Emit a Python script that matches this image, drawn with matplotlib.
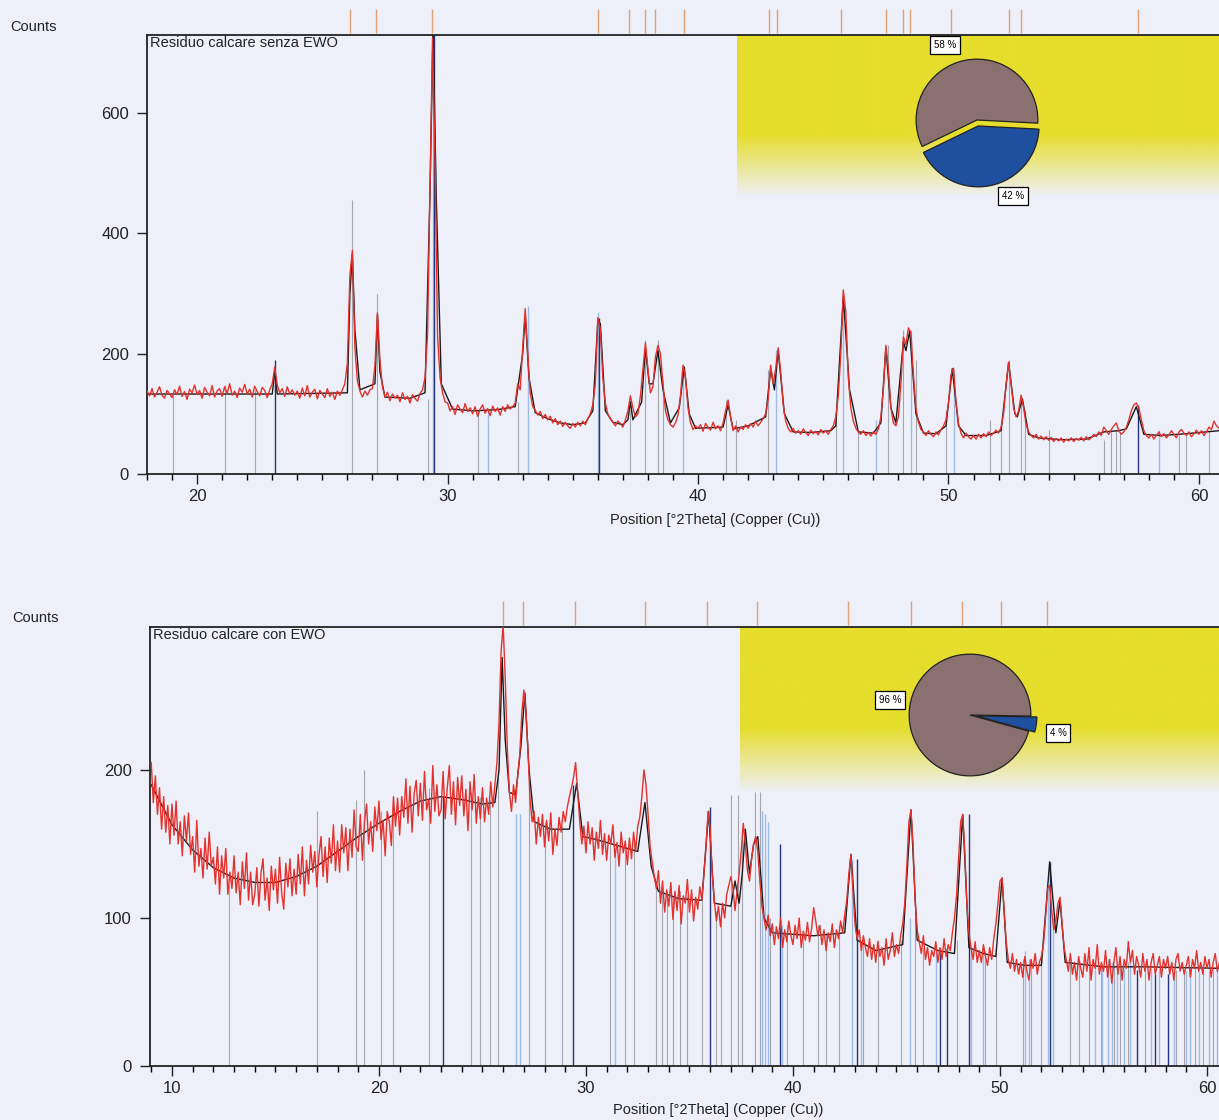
import numpy as np
import matplotlib
matplotlib.use("Agg")
import matplotlib.pyplot as plt
from matplotlib.ticker import MultipleLocator
from matplotlib.colors import to_rgb

plt.rcParams['font.family'] = ['Liberation Sans', 'DejaVu Sans']

# ---------------- data ----------------
# upper pattern: "Residuo calcare senza EWO", 0.1 deg steps from 18.0
top_start = 18.0
top_counts = [
    138, 130, 142, 128, 136, 145, 131, 126, 139, 133,
    127, 140, 132, 146, 129, 137, 124, 141, 135, 148,
    132, 139, 126, 144, 136, 130, 147, 128, 138, 142,
    129, 145, 134, 150, 131, 138, 127, 143, 136, 149,
    133, 141, 128, 146, 137, 130, 144, 139, 127, 140,
    150, 178, 148, 135, 142, 129, 145, 133, 140, 131,
    138, 126, 143, 130, 147, 128, 136, 141, 125, 139,
    133, 127, 142, 129, 136, 124, 138, 131, 140, 150,
    185, 330, 372, 210, 155, 138, 128, 138, 131, 140,
    142, 180, 268, 190, 145, 128, 136, 122, 133, 126,
    131, 120, 135, 124, 129, 118, 132, 126, 121, 134,
    140, 160, 230, 480, 725, 520, 230, 160, 135, 120,
    118, 105, 112, 99, 115, 108, 102, 117, 104, 110,
    100, 112, 96, 108, 115, 101, 109, 97, 113, 104,
    110, 98, 112, 104, 115, 108, 112, 118, 150, 140,
    210, 275, 200, 135, 112, 106, 98, 104, 92, 99,
    90, 96, 85, 92, 82, 88, 79, 86, 80, 76,
    84, 78, 86, 80, 88, 82, 92, 100, 115, 150,
    260, 240, 160, 118, 100, 92, 86, 80, 88, 84,
    78, 90, 105, 130, 110, 95, 100, 130, 175, 218,
    175, 135, 145, 195, 214, 200, 150, 105, 90, 82,
    78, 85, 98, 130, 181, 160, 110, 85, 74, 80,
    76, 82, 71, 84, 78, 73, 86, 75, 80, 72,
    85, 105, 123, 95, 72, 80, 70, 78, 74, 82,
    76, 84, 78, 88, 80, 86, 92, 100, 125, 181,
    150, 175, 210, 170, 115, 88, 76, 70, 76, 68,
    72, 66, 75, 69, 64, 73, 67, 71, 65, 74,
    68, 72, 66, 74, 80, 95, 130, 200, 306, 270,
    160, 110, 88, 76, 70, 66, 72, 64, 69, 63,
    70, 66, 75, 95, 140, 214, 175, 110, 85, 80,
    95, 150, 228, 215, 243, 235, 165, 110, 86, 74,
    70, 64, 72, 66, 62, 70, 65, 74, 80, 90,
    118, 165, 176, 120, 84, 68, 60, 68, 62, 58,
    64, 58, 66, 60, 67, 62, 70, 64, 68, 73,
    68, 78, 100, 150, 186, 150, 110, 95, 105, 131,
    110, 82, 70, 64, 60, 66, 58, 63, 57, 62,
    56, 61, 54, 59, 55, 60, 53, 58, 55, 60,
    54, 59, 56, 61, 55, 62, 57, 60, 66, 62,
    70, 64, 78, 72, 66, 74, 80, 85, 72, 66,
    70, 78, 90, 105, 115, 118, 110, 90, 72, 64,
    60, 66, 58, 64, 70, 62, 67, 60, 65, 72,
    66, 60, 70, 74, 68, 64, 70, 62, 67, 73,
    66, 72, 64, 70, 78, 74, 88, 80, 76,
]
top_fit_x = [18.0, 23.0, 23.1, 23.2, 26.0, 26.1, 26.2, 26.3, 26.5, 27.1, 27.2, 27.3,
             27.5, 28.5, 29.1, 29.3, 29.42, 29.55, 29.75, 30.2, 31.0, 32.0, 32.7,
             33.0, 33.1, 33.25, 33.5, 34.0, 34.5, 35.0, 35.5, 35.8, 36.0, 36.1,
             36.3, 36.6, 37.0, 37.2, 37.3, 37.4, 37.75, 37.9, 38.05, 38.2, 38.4,
             38.6, 38.9, 39.25, 39.45, 39.65, 39.9, 40.5, 41.0, 41.2, 41.4, 42.0,
             42.7, 42.9, 43.05, 43.2, 43.45, 43.8, 44.5, 45.3, 45.5, 45.8, 46.05,
             46.4, 47.0, 47.3, 47.5, 47.7, 47.9, 48.2, 48.3, 48.45, 48.7, 49.0,
             49.5, 49.9, 50.15, 50.4, 50.7, 51.5, 52.1, 52.4, 52.65, 52.75, 52.95,
             53.2, 53.6, 54.5, 55.5, 56.2, 56.8, 57.1, 57.5, 57.8, 58.5, 59.5,
             60.8]
top_fit_y = [133, 133, 170, 133, 135, 300, 365, 240, 140, 150, 265, 170,
             128, 126, 135, 470, 740, 460, 150, 108, 105, 107, 112,
             200, 265, 160, 102, 92, 85, 82, 85, 105, 255, 250,
             105, 86, 82, 90, 120, 90, 120, 210, 150, 150, 205,
             140, 85, 110, 178, 100, 76, 77, 78, 115, 75, 80,
             95, 175, 140, 205, 100, 70, 69, 72, 80, 295, 140,
             70, 68, 85, 210, 110, 85, 220, 205, 238, 100, 68,
             67, 80, 175, 80, 64, 64, 72, 185, 100, 95, 125,
             66, 60, 57, 58, 70, 72, 75, 112, 66, 64, 67,
             72]
top_grey_pos = [19.05, 21.1, 22.3, 26.2, 27.2, 29.2, 31.2, 32.8, 37.3, 37.9, 38.4,
                38.6, 41.1, 41.5, 42.8, 45.5, 46.4, 47.6, 48.2, 48.7, 49.9, 51.65,
                52.1, 52.4, 52.9, 53.05, 54.0, 56.2, 56.5, 56.7, 56.85, 59.2, 59.5, 60.4]
top_grey_h = [131, 148, 140, 455, 300, 125, 107, 120, 107, 222, 222,
              157, 123, 90, 173, 90, 73, 215, 240, 190, 107, 90,
              82, 190, 123, 107, 73, 57, 73, 73, 70, 65, 65, 73]
top_blue_pos = [29.4, 31.6, 33.2, 36.0, 39.4, 43.1, 45.8, 47.1, 48.5, 50.2, 58.4]
top_blue_h = [730, 107, 280, 270, 180, 206, 305, 90, 240, 173, 73]
top_dark_pos = [23.1, 29.45, 36.05, 57.55]
top_dark_h = [190, 730, 260, 115]
top_peak_marks = [26.1, 27.15, 29.38, 36.0, 37.25, 37.9, 38.3, 39.45, 42.85, 43.15,
                  45.7, 47.5, 48.2, 48.45, 50.1, 52.4, 52.9, 57.55]
top_share = [58, 42]

# lower pattern: "Residuo calcare con EWO", 0.1 deg steps from 9.0
bot_start = 9.0
bot_counts = [
    205, 178, 196, 170, 188, 160, 182, 158, 176, 150,
    177, 156, 179, 150, 165, 142, 169, 152, 171, 143,
    155, 131, 166, 135, 147, 127, 154, 133, 158, 135,
    141, 123, 148, 116, 142, 127, 147, 116, 131, 120,
    142, 117, 131, 109, 138, 120, 144, 112, 131, 109,
    116, 134, 108, 130, 140, 112, 127, 105, 135, 119,
    133, 110, 141, 117, 106, 137, 121, 140, 115, 133,
    116, 143, 123, 148, 115, 139, 123, 149, 131, 145,
    121, 142, 155, 128, 148, 124, 154, 137, 163, 132,
    152, 131, 163, 144, 161, 132, 160, 141, 173, 148,
    145, 170, 139, 165, 177, 150, 165, 145, 175, 159,
    179, 153, 166, 142, 172, 165, 149, 182, 162, 181,
    156, 182, 168, 194, 164, 189, 158, 184, 193, 169,
    191, 166, 199, 173, 180, 164, 203, 172, 190, 169,
    173, 199, 167, 188, 203, 170, 192, 163, 195, 176,
    196, 169, 187, 159, 192, 173, 197, 164, 182, 167,
    188, 165, 181, 170, 192, 175, 190, 205, 232, 280,
    298, 262, 215, 185, 172, 190, 178, 196, 210, 238,
    254, 240, 212, 180, 165, 172, 150, 168, 155, 170,
    148, 166, 152, 171, 143, 160, 149, 168, 158, 172,
    165, 175, 182, 188, 195, 205, 185, 165, 150, 162,
    144, 165, 150, 161, 139, 158, 147, 166, 143, 157,
    139, 156, 150, 163, 141, 151, 135, 158, 144, 152,
    136, 154, 140, 158, 145, 162, 168, 182, 200, 190,
    170, 148, 138, 128, 120, 132, 110, 125, 104, 119,
    108, 124, 99, 118, 105, 122, 96, 115, 110, 126,
    104, 119, 98, 114, 106, 121, 112, 130, 148, 172,
    160, 130, 112, 98, 108, 94, 110, 100, 116, 122,
    128, 120, 105, 118, 130, 145, 164, 150, 132, 125,
    140, 150, 155, 145, 125, 108, 100, 92, 102, 88,
    96, 82, 94, 86, 100, 80, 92, 84, 98, 88,
    82, 95, 86, 100, 80, 91, 85, 97, 84, 93,
    107, 98, 88, 95, 82, 92, 78, 90, 84, 96,
    80, 92, 86, 98, 90, 102, 112, 130, 143, 118,
    95, 86, 92, 78, 88, 80, 74, 86, 72, 82,
    70, 84, 74, 80, 68, 86, 72, 78, 90, 74,
    82, 76, 88, 96, 110, 135, 165, 173, 150, 112,
    92, 84, 76, 88, 72, 80, 68, 78, 74, 84,
    70, 80, 72, 86, 74, 82, 78, 90, 100, 115,
    140, 165, 170, 145, 110, 90, 80, 72, 84, 70,
    78, 70, 82, 74, 68, 80, 72, 86, 96, 110,
    125, 127, 105, 84, 72, 66, 76, 64, 72, 62,
    70, 60, 74, 64, 58, 72, 66, 76, 62, 70,
    74, 82, 100, 120, 122, 105, 92, 98, 110, 114,
    96, 80, 72, 64, 76, 62, 70, 58, 74, 66,
    60, 76, 64, 80, 58, 72, 66, 82, 62, 70,
    64, 78, 60, 72, 56, 70, 80, 62, 74, 58,
    72, 66, 84, 70, 78, 62, 74, 68, 60, 76,
    64, 72, 58, 70, 76, 62, 68, 74, 60, 72,
    66, 74, 62, 70, 58, 72, 76, 64, 70, 62,
    68, 74, 60, 72, 66, 78, 64, 70, 62, 74,
    66, 72, 60, 70, 76, 64, 70,
]
bot_fit_x = [9.0, 10, 11, 12, 13, 14, 15, 16, 17, 18, 19, 20, 21, 22, 23, 24, 25,
             25.6, 25.8, 25.95, 26.1, 26.3, 26.6, 26.85, 27.05, 27.25, 27.5, 28.3,
             29.2, 29.55, 29.85, 30.5, 31.5, 32.5, 32.85, 33.15, 33.5, 34.5, 35.6,
             35.92, 36.2, 37.0, 37.2, 37.4, 37.55, 37.7, 37.9, 38.1, 38.3, 38.6,
             39.0, 40.0, 41.0, 42.5, 42.8, 43.1, 44.0, 45.3, 45.7, 46.0, 47.0,
             47.8, 48.2, 48.5, 49.2, 49.8, 50.1, 50.35, 51.2, 52.0, 52.4, 52.7,
             52.9, 53.15, 55.0, 57.0, 60.6]
bot_fit_y = [190, 163, 146, 134, 127, 124, 124, 128, 135, 145, 155, 164, 172, 179,
             182, 180, 177, 178, 200, 276, 220, 185, 183, 215, 252, 200, 165, 160,
             160, 191, 155, 153, 149, 145, 178, 135, 118, 113, 112, 172, 110, 108,
             125, 110, 130, 160, 130, 150, 155, 100, 90, 89, 88, 90, 143, 85, 78,
             82, 173, 85, 78, 76, 170, 80, 76, 74, 127, 70, 68, 68, 138, 90, 112,
             70, 67, 67, 66]
bot_grey_pos = [12.75, 17.0, 18.9, 19.3, 20.1, 20.7, 22.4, 24.45, 24.9, 25.35, 25.75,
                27.25, 28.0, 28.85, 31.15, 31.9, 32.3, 33.4, 33.65, 33.9, 34.2, 34.55,
                34.9, 35.6, 36.3, 36.5, 37.0, 37.35, 37.55, 38.15, 38.4, 38.9, 39.7,
                40.5, 41.2, 41.6, 42.2, 43.4, 44.1, 45.2, 45.9, 46.3, 47.9, 49.3,
                49.8, 51.1, 51.5, 52.0, 53.4, 53.8, 54.3, 54.9, 55.5, 55.8, 56.2,
                57.0, 58.5, 58.9, 59.4, 59.8, 60.3]
bot_grey_h = [122, 172, 180, 200, 172, 178, 188, 185, 182, 180, 200,
              200, 165, 162, 150, 148, 150, 125, 118, 118, 115, 118,
              115, 112, 105, 106, 183, 183, 160, 185, 185, 100, 95,
              92, 95, 90, 95, 88, 85, 85, 100, 80, 85, 78,
              80, 72, 72, 75, 70, 70, 70, 68, 68, 68, 70,
              66, 65, 65, 66, 64, 66]
bot_blue_pos = [26.6, 26.8, 31.4, 38.5, 38.65, 38.8, 39.45, 42.85, 43.3, 45.65, 46.9,
                48.6, 49.2, 51.2, 51.4, 52.3, 52.55, 54.6, 54.95, 55.2, 55.4, 55.65,
                56.0, 56.3, 57.3, 57.7, 58.4, 59.0, 59.2, 59.6, 60.1, 60.5]
bot_blue_h = [170, 170, 145, 172, 170, 165, 95, 140, 85, 100, 78,
              80, 80, 78, 72, 120, 100, 70, 68, 72, 70, 68,
              66, 70, 66, 66, 64, 64, 66, 64, 64, 66]
bot_dark_pos = [23.09, 29.37, 36.0, 39.35, 43.07, 47.08, 47.46, 48.5, 52.4, 56.6,
                57.47, 58.14]
bot_dark_h = [182, 190, 175, 150, 140, 80, 80, 170, 138, 65, 62, 62]
bot_peak_marks = [26.0, 26.96, 29.47, 32.85, 35.85, 38.26, 42.66, 45.7, 48.16,
                  50.05, 52.27]
bot_share = [96, 4]

# ---------------- drawing ----------------
W, H = 1219, 1120
BG = '#eef0f9'
RED = '#e3322d'
BROWN = '#8b7070'
BLUE = '#1f4f9f'
YELLOW = '#e6dd2c'


def px_axes(fig, x0, y0, x1, y1, **kw):
    return fig.add_axes([x0 / W, 1 - y1 / H, (x1 - x0) / W, (y1 - y0) / H], **kw)


def yellow_box(ax, rect):
    ins = ax.inset_axes(rect, zorder=0.5)
    grad = np.ones((120, 1, 4))
    grad[:, 0, :3] = to_rgb(YELLOW)
    t = np.linspace(0, 1, 120)
    grad[:, 0, 3] = np.clip(1.0 - (t - 0.62) / 0.40, 0, 1)
    ins.imshow(grad, aspect='auto', extent=[0, 1, 0, 1], interpolation='bilinear')
    ins.axis('off')


def pie_inset(fig, cx, cy, shares, startangle, labels_at):
    pa = px_axes(fig, cx - 70, cy - 70, cx + 70, cy + 70, zorder=5)
    pa.pie(shares, colors=[BROWN, BLUE], startangle=startangle, explode=[0, 0.1],
           wedgeprops=dict(edgecolor='#222222', linewidth=0.9))
    pa.set_xlim(-1.15, 1.15)
    pa.set_ylim(-1.15, 1.15)
    pa.axis('off')
    for v, (lx, ly) in zip(shares, labels_at):
        fig.text(lx / W, 1 - ly / H, f'{v} %', ha='center', va='center', fontsize=7,
                 zorder=6, bbox=dict(boxstyle='square,pad=0.4', fc='white', ec='black', lw=0.9))


def pattern(ax, start, counts, fit_x, fit_y, grey, blue, dark, marks, xlim, ylim,
            yticks, xticks, title):
    x = start + 0.1 * np.arange(len(counts))
    ax.set_facecolor(BG)
    ax.vlines(grey[0], 0, grey[1], colors='#a4a4aa', lw=0.8, zorder=1)
    ax.vlines(blue[0], 0, blue[1], colors='#9dbbe4', lw=1.0, zorder=1)
    ax.vlines(dark[0], 0, dark[1], colors='#26357a', lw=1.0, zorder=1)
    ax.plot(fit_x, fit_y, color='#1a1a1a', lw=1.0, zorder=2)
    ax.plot(x, counts, color=RED, lw=1.0, zorder=3)
    ax.vlines(marks, 1.005, 1.06, colors='#dca27a', lw=1.0,
              transform=ax.get_xaxis_transform(), clip_on=False)
    ax.set_xlim(*xlim)
    ax.set_ylim(*ylim)
    ax.set_xticks(xticks)
    ax.xaxis.set_minor_locator(MultipleLocator(1))
    ax.set_yticks(yticks)
    ax.tick_params(axis='both', which='major', length=7, width=1, direction='out',
                   labelsize=12, colors='#222222')
    ax.tick_params(axis='y', which='major', pad=6)
    ax.tick_params(axis='x', which='minor', length=4, width=1, direction='out')
    for side in ('left', 'bottom', 'top'):
        ax.spines[side].set_linewidth(1.3)
        ax.spines[side].set_color('#222222')
    ax.spines['right'].set_visible(False)
    ax.text(0.003, 0.997, title, transform=ax.transAxes, ha='left', va='top',
            fontsize=10.5, color='#222222', zorder=4)


fig = plt.figure(figsize=(W / 100, H / 100), dpi=100, facecolor=BG)

ax1 = px_axes(fig, 147, 35, 1219, 474)
pattern(ax1, top_start, top_counts, top_fit_x, top_fit_y,
        (top_grey_pos, top_grey_h), (top_blue_pos, top_blue_h), (top_dark_pos, top_dark_h),
        top_peak_marks, (18.0, 60.8), (0, 730), [0, 200, 400, 600], [20, 30, 40, 50, 60],
        'Residuo calcare senza EWO')
yellow_box(ax1, [0.55, 0.636, 0.45, 0.364])
pie_inset(fig, 977, 120, top_share, -3, [(945, 45), (1013, 196)])
fig.text(10 / W, 1 - 27 / H, 'Counts', ha='left', va='center', fontsize=10.5, color='#222222')
fig.text(715 / W, 1 - 520 / H, 'Position [°2Theta] (Copper (Cu))', ha='center', va='center',
         fontsize=10.5, color='#222222')

ax2 = px_axes(fig, 150, 627, 1219, 1066)
pattern(ax2, bot_start, bot_counts, bot_fit_x, bot_fit_y,
        (bot_grey_pos, bot_grey_h), (bot_blue_pos, bot_blue_h), (bot_dark_pos, bot_dark_h),
        bot_peak_marks, (8.94, 60.58), (0, 296.6), [0, 100, 200], [10, 20, 30, 40, 50, 60],
        'Residuo calcare con EWO')
yellow_box(ax2, [0.552, 0.629, 0.448, 0.371])
pie_inset(fig, 970, 715, bot_share, -1, [(890, 700), (1058, 733)])
fig.text(12 / W, 1 - 618 / H, 'Counts', ha='left', va='center', fontsize=10.5, color='#222222')
fig.text(718 / W, 1 - 1110 / H, 'Position [°2Theta] (Copper (Cu))', ha='center', va='center',
         fontsize=10.5, color='#222222')

fig.savefig('out.png', dpi=100, facecolor=BG)
